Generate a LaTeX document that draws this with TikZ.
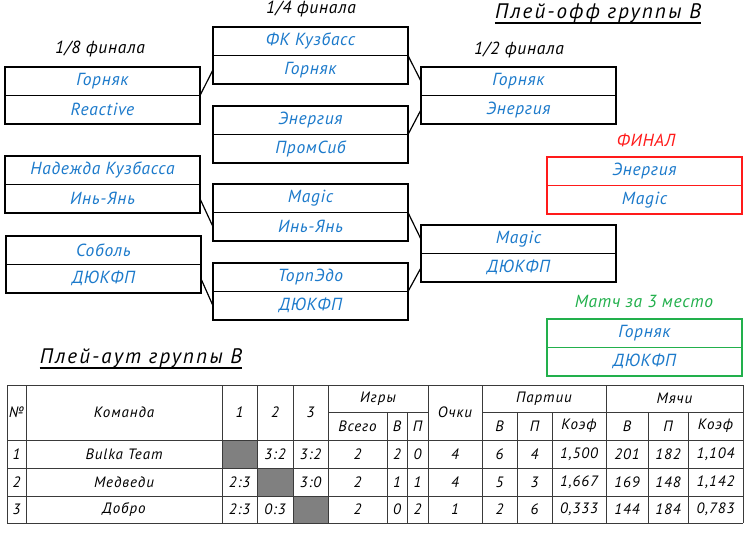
\documentclass[tikz,border=0pt]{standalone}
\usepackage{fontspec}
\setmainfont{PT Sans}
\newfontfamily\gostfont{PT Sans}[LetterSpace=4]
\newfontfamily\gostcell{PT Sans}[LetterSpace=6]
\newfontfamily\gostwide{PT Sans}[LetterSpace=10]
\definecolor{tblue}{HTML}{1C7ACB}
\definecolor{tred}{HTML}{FF1A1A}
\definecolor{tgreen}{HTML}{22B04C}
\definecolor{tline}{HTML}{3A3A3A}
\definecolor{tgray}{HTML}{808080}
\tikzset{
  team/.style={draw, line width=1.5pt, minimum width=195pt, minimum height=28.5pt,
    inner sep=0pt, outer sep=0pt, text=tblue,
    font=\gostfont\itshape\fontsize{17.5}{20}\selectfont},
  redteam/.style={team, draw=tred},
  greenteam/.style={team, draw=tgreen},
  conn/.style={line width=1.2pt, line cap=round},
  lbl/.style={inner sep=0pt, font=\gostfont\itshape\fontsize{17.5}{20}\selectfont},
  ttl/.style={inner sep=0pt, font=\gostwide\itshape\fontsize{21}{24}\selectfont},
  uline/.style={line width=1.3pt},
  grid/.style={draw=tline, line width=0.9pt},
  cell/.style={inner sep=0pt, font=\gostcell\itshape\fontsize{15}{17}\selectfont},
}
\begin{document}
\begin{tikzpicture}[x=1pt, y=-1pt]
\fill[white] (0,0) rectangle (750,550);
\useasboundingbox (0,0) rectangle (750,550);

% titles
\node[ttl, anchor=base] (t1) at (598,18) {Плей-офф группы В};
\draw[uline] ([yshift=-5pt]t1.base west) -- ([yshift=-5pt]t1.base east);
\node[ttl, anchor=base] (t2) at (141,363) {Плей-аут группы В};
\draw[uline] ([yshift=-5pt]t2.base west) -- ([yshift=-5pt]t2.base east);

% round labels
\node[lbl] (l8) at (100,49) {1/8 финала};
\node[lbl] (l4) at (311,9) {1/4 финала};
\node[lbl] (l2) at (519,50) {1/2 финала};
\node[lbl, text=tred] (lf) at (646,140) {ФИНАЛ};
\node[lbl, text=tgreen] (l3) at (644,301) {Матч за 3 место};

% 1/8
\node[team, anchor=north west] (r1a) at (5,67) {Горняк};
\node[team, anchor=north] (r1b) at (r1a.south) {Reactive};
\node[team, anchor=north west] (r2a) at (5,156) {Надежда Кузбасса};
\node[team, anchor=north] (r2b) at (r2a.south) {Инь-Янь};
\node[team, anchor=north west] (r3a) at (6,236) {Соболь};
\node[team, anchor=north] (r3b) at (r3a.south) {ДЮКФП};

% 1/4
\node[team, anchor=north west] (q1a) at (213,27) {ФК Кузбасс};
\node[team, anchor=north] (q1b) at (q1a.south) {Горняк};
\node[team, anchor=north west] (q2a) at (213,106) {Энергия};
\node[team, anchor=north] (q2b) at (q2a.south) {ПромСиб};
\node[team, anchor=north west] (q3a) at (213,184) {Magic};
\node[team, anchor=north] (q3b) at (q3a.south) {Инь-Янь};
\node[team, anchor=north west] (q4a) at (213,263) {ТорпЭдо};
\node[team, anchor=north] (q4b) at (q4a.south) {ДЮКФП};

% 1/2
\node[team, anchor=north west] (s1a) at (421,67) {Горняк};
\node[team, anchor=north] (s1b) at (s1a.south) {Энергия};
\node[team, anchor=north west] (s2a) at (421,225) {Magic};
\node[team, anchor=north] (s2b) at (s2a.south) {ДЮКФП};

% final & 3rd place
\node[redteam, anchor=north west] (fa) at (547,157) {Энергия};
\node[redteam, anchor=north] (fb) at (fa.south) {Magic};
\node[greenteam, anchor=north west] (ta) at (547,319) {Горняк};
\node[greenteam, anchor=north] (tb) at (ta.south) {ДЮКФП};

% connectors
\draw[conn] (r1a.south east) -- (q1b.west);
\draw[conn] (r2b.east) -- (q3b.west);
\draw[conn] (r3b.east) -- (q4b.west);
\draw[conn] (q1a.south east) -- (s1a.west);
\draw[conn] (q2a.south east) -- (s1b.west);
\draw[conn] (q3a.south east) -- (s2a.west);
\draw[conn] (q4a.south east) -- (s2b.west);

% table: gray cells
\fill[tgray] (222,440) rectangle (257,468);
\fill[tgray] (257,468) rectangle (293,496);
\fill[tgray] (293,496) rectangle (328,523);
% table grid
\foreach \yy in {385,440,468,496,523} \draw[grid] (7,\yy) -- (743,\yy);
\draw[grid] (328,412) -- (428,412);
\draw[grid] (482,412) -- (743,412);
\foreach \xx in {7,26,222,257,293,328,428,482,606,743} \draw[grid] (\xx,385) -- (\xx,523);
\foreach \xx in {387,407,517,552,648,688} \draw[grid] (\xx,412) -- (\xx,523);

% header texts
\node[cell] (h1) at (16.5,412) {№};
\node[cell] (h2) at (124,412) {Команда};
\node[cell] (h3) at (239.5,412) {1};
\node[cell] (h4) at (275,412) {2};
\node[cell] (h5) at (310.5,412) {3};
\node[cell] (h6) at (378,398.5) {Игры};
\node[cell] (h7) at (357.5,426) {Всего};
\node[cell] (h8) at (397,426) {В};
\node[cell] (h9) at (417.5,426) {П};
\node[cell] (h10) at (455,412) {Очки};
\node[cell] (h11) at (544,398.5) {Партии};
\node[cell] (h12) at (499.5,426) {В};
\node[cell] (h13) at (534.5,426) {П};
\node[cell] (h14) at (579,426) {Коэф};
\node[cell] (h15) at (674.5,398.5) {Мячи};
\node[cell] (h16) at (627,426) {В};
\node[cell] (h17) at (668,426) {П};
\node[cell] (h18) at (715.5,426) {Коэф};

% rows
\foreach \x/\t [count=\i] in {16.5/1, 124/Bulka Team, 275/3:2, 310.5/3:2, 357.5/2, 397/2, 417.5/0, 455/4, 499.5/6, 534.5/4, 579/{1,500}, 627/201, 668/182, 715.5/{1,104}}
  \node[cell] (ra\i) at (\x,454) {\t};
\foreach \x/\t [count=\i] in {16.5/2, 124/Медведи, 239.5/2:3, 310.5/3:0, 357.5/2, 397/1, 417.5/1, 455/4, 499.5/5, 534.5/3, 579/{1,667}, 627/169, 668/148, 715.5/{1,142}}
  \node[cell] (rb\i) at (\x,482) {\t};
\foreach \x/\t [count=\i] in {16.5/3, 124/Добро, 239.5/2:3, 275/0:3, 357.5/2, 397/0, 417.5/2, 455/1, 499.5/2, 534.5/6, 579/{0,333}, 627/144, 668/184, 715.5/{0,783}}
  \node[cell] (rc\i) at (\x,509.5) {\t};
\end{tikzpicture}
\end{document}
